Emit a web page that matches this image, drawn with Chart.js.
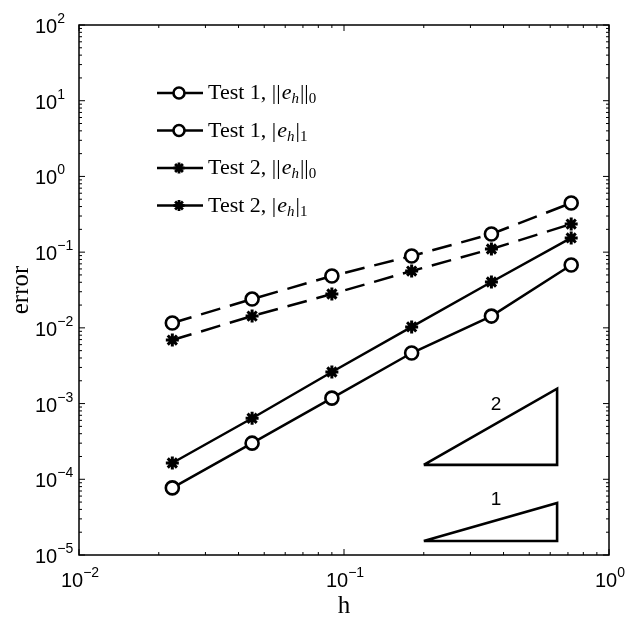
<!DOCTYPE html>
<html>
<head>
<meta charset="utf-8">
<script src="https://cdn.jsdelivr.net/npm/chart.js@4.4.0/dist/chart.umd.min.js"></script>
<style>
  html, body { margin: 0; padding: 0; background: #fff; }
</style>
</head>
<body>
<canvas id="grafico-erro" width="629" height="620"></canvas>
<script>
// dados (malha h e erros)
const h = [0.0225, 0.045, 0.09, 0.18, 0.36, 0.72];
const teste1L2 = [7.7e-5, 3.0e-4, 1.18e-3, 4.65e-3, 0.0143, 0.0676];
const teste1H1 = [0.0116, 0.024, 0.0484, 0.0889, 0.1735, 0.446];
const teste2L2 = [1.64e-4, 6.4e-4, 2.61e-3, 0.0103, 0.0403, 0.154];
const teste2H1 = [6.9e-3, 0.0143, 0.028, 0.0563, 0.11, 0.235];

// triângulos de ordem de convergência
const trianguloX = [0.2, 0.637, 0.637, 0.2];
const triangulo2Y = [1.55e-4, 1.55e-4, 1.57e-3, 1.55e-4];
const triangulo1Y = [1.53e-5, 1.53e-5, 4.87e-5, 1.53e-5];
const rotulosTriangulo = ['2', '1'];
const rotuloTrianguloX = [0.375, 0.375];
const rotuloTrianguloY = [9.6e-4, 5.3e-5];

// legenda
const legendaTeste = ['Test 1, ', 'Test 1, ', 'Test 2, ', 'Test 2, '];
const legendaNorma = ['L2', 'H1', 'L2', 'H1'];
const legendaMarcador = ['circle', 'circle', 'star', 'star'];

// eixos
const xDecadas = [-2, -1, 0];
const yDecadas = [-5, -4, -3, -2, -1, 0, 1, 2];

function pontos(xs, ys) {
  return xs.map((v, i) => ({ x: v, y: ys[i] }));
}

function serie(ys, marcador, tracejado) {
  return {
    data: pontos(h, ys),
    borderColor: '#000',
    borderWidth: 2.5,
    borderDash: tracejado ? [20, 10] : [],
    pointStyle: marcador,
    pointRadius: marcador === 'circle' ? 6.5 : 6.5,
    pointBorderWidth: marcador === 'circle' ? 2.6 : 3,
    pointBorderColor: '#000',
    pointBackgroundColor: marcador === 'circle' ? '#fff' : '#000',
    tension: 0,
    fill: false
  };
}

function triangulo(ys) {
  return {
    data: pontos(trianguloX, ys),
    borderColor: '#000',
    borderWidth: 2.6,
    pointRadius: 0,
    tension: 0,
    fill: false
  };
}

// desenha marcador pequeno na legenda
function marcador(ctx, tipo, cx, cy) {
  ctx.save();
  ctx.strokeStyle = '#000';
  if (tipo === 'circle') {
    ctx.lineWidth = 2.6;
    ctx.fillStyle = '#fff';
    ctx.beginPath();
    ctx.arc(cx, cy, 5.5, 0, Math.PI * 2);
    ctx.fill();
    ctx.stroke();
  } else {
    ctx.lineWidth = 2.8;
    const r = 5.5;
    ctx.beginPath();
    for (let k = 0; k < 4; k++) {
      const a = k * Math.PI / 4;
      ctx.moveTo(cx - r * Math.cos(a), cy - r * Math.sin(a));
      ctx.lineTo(cx + r * Math.cos(a), cy + r * Math.sin(a));
    }
    ctx.stroke();
  }
  ctx.restore();
}

// texto "10" com expoente
function potencia(ctx, exp, x, base, alinhamento) {
  const txtBase = '10';
  const txtExp = exp < 0 ? '\u2212' + (-exp) : String(exp);
  ctx.font = '20px "Liberation Sans", Arial, sans-serif';
  const wb = ctx.measureText(txtBase).width;
  ctx.font = '14px "Liberation Sans", Arial, sans-serif';
  const we = ctx.measureText(txtExp).width;
  let x0 = x;
  if (alinhamento === 'center') x0 = x - (wb + we) / 2;
  ctx.textAlign = 'left';
  ctx.textBaseline = 'alphabetic';
  ctx.font = '20px "Liberation Sans", Arial, sans-serif';
  ctx.fillText(txtBase, x0, base);
  ctx.font = '14px "Liberation Sans", Arial, sans-serif';
  ctx.fillText(txtExp, x0 + wb, base - 10);
}

const pluginEixos = {
  id: 'eixosMatlab',
  afterDraw(chart) {
    const { ctx, chartArea: a, scales } = chart;
    const sx = scales.x, sy = scales.y;
    ctx.save();
    ctx.fillStyle = '#000';
    ctx.strokeStyle = '#000';

    // moldura
    ctx.lineWidth = 1.5;
    ctx.strokeRect(a.left, a.top, a.right - a.left, a.bottom - a.top);

    // marcas principais e secundárias (para dentro)
    ctx.lineWidth = 1;
    ctx.beginPath();
    xDecadas.forEach(d => {
      for (let m = 1; m <= 9; m++) {
        if (d === 0 && m > 1) break;
        const px = sx.getPixelForValue(m * Math.pow(10, d));
        const len = m === 1 ? 6 : 3;
        ctx.moveTo(px, a.bottom); ctx.lineTo(px, a.bottom - len);
        ctx.moveTo(px, a.top); ctx.lineTo(px, a.top + len);
      }
    });
    yDecadas.forEach(d => {
      for (let m = 1; m <= 9; m++) {
        if (d === 2 && m > 1) break;
        const py = sy.getPixelForValue(m * Math.pow(10, d));
        const len = m === 1 ? 6 : 3;
        ctx.moveTo(a.left, py); ctx.lineTo(a.left + len, py);
        ctx.moveTo(a.right, py); ctx.lineTo(a.right - len, py);
      }
    });
    ctx.stroke();

    // rótulos dos eixos
    yDecadas.forEach(d => {
      const py = sy.getPixelForValue(Math.pow(10, d));
      potencia(ctx, d, 35, py + 8, 'left');
    });
    xDecadas.forEach(d => {
      const px = sx.getPixelForValue(Math.pow(10, d));
      potencia(ctx, d, px + 1, a.bottom + 32, 'center');
    });

    // títulos dos eixos
    ctx.font = '25px "Liberation Serif", "Times New Roman", serif';
    ctx.textAlign = 'center';
    ctx.textBaseline = 'alphabetic';
    ctx.fillText('h', (a.left + a.right) / 2, a.bottom + 58);
    ctx.save();
    ctx.translate(28, (a.top + a.bottom) / 2);
    ctx.rotate(-Math.PI / 2);
    ctx.fillText('error', 0, 0);
    ctx.restore();

    // números dos triângulos
    ctx.font = '19px "Liberation Sans", Arial, sans-serif';
    ctx.textAlign = 'center';
    ctx.textBaseline = 'middle';
    rotulosTriangulo.forEach((t, i) => {
      ctx.fillText(t, sx.getPixelForValue(rotuloTrianguloX[i]), sy.getPixelForValue(rotuloTrianguloY[i]));
    });

    // legenda
    const serif = '"Liberation Serif", "Times New Roman", serif';
    legendaTeste.forEach((t, i) => {
      const cy = 93 + i * 37.5;
      ctx.lineWidth = 2.6;
      ctx.beginPath();
      ctx.moveTo(157, cy); ctx.lineTo(203, cy);
      ctx.stroke();
      marcador(ctx, legendaMarcador[i], 179, cy);

      const base = cy + 6;
      let x = 208;
      ctx.textAlign = 'left';
      ctx.textBaseline = 'alphabetic';
      const escreve = (s, fonte, dy) => {
        ctx.font = fonte;
        ctx.fillText(s, x, base + (dy || 0));
        x += ctx.measureText(s).width;
      };
      const barras = legendaNorma[i] === 'L2' ? '||' : '|';
      const indice = legendaNorma[i] === 'L2' ? '0' : '1';
      escreve(t, '22px ' + serif);
      escreve(barras, '22px ' + serif);
      x += 1;
      escreve('e', 'italic 22px ' + serif);
      escreve('h', 'italic 15px ' + serif, 4);
      x += 1;
      escreve(barras, '22px ' + serif);
      escreve(indice, '15px ' + serif, 4);
    });

    ctx.restore();
  }
};

new Chart(document.getElementById('grafico-erro'), {
  type: 'line',
  data: {
    datasets: [
      serie(teste1L2, 'circle', false),
      serie(teste1H1, 'circle', true),
      serie(teste2L2, 'star', false),
      serie(teste2H1, 'star', true),
      triangulo(triangulo2Y),
      triangulo(triangulo1Y)
    ]
  },
  options: {
    responsive: false,
    animation: false,
    layout: { padding: { left: 79, right: 20, top: 25, bottom: 65 } },
    scales: {
      x: { type: 'logarithmic', min: 0.01, max: 1, display: false },
      y: { type: 'logarithmic', min: 1e-5, max: 100, display: false }
    },
    plugins: {
      legend: { display: false },
      tooltip: { enabled: false }
    }
  },
  plugins: [pluginEixos]
});
</script>
</body>
</html>
